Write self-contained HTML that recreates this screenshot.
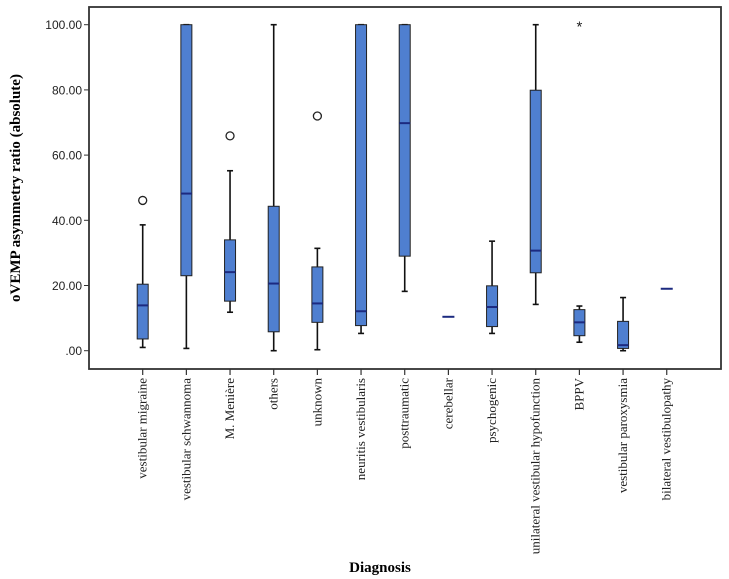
<!DOCTYPE html>
<html><head><meta charset="utf-8"><style>
html,body{margin:0;padding:0;background:#fff;width:729px;height:579px;overflow:hidden}
</style></head><body>
<svg id="chart" width="729" height="579" xmlns="http://www.w3.org/2000/svg">
<rect x="0" y="0" width="729" height="579" fill="#fff"/>
<rect x="89" y="7" width="632" height="362" fill="#fff" stroke="#333" stroke-width="1.8"/>
<text x="20" y="188" transform="rotate(-90 20 188)" text-anchor="middle" font-family="Liberation Serif, serif" font-weight="bold" font-size="15">oVEMP asymmetry ratio (absolute)</text>
<text x="380" y="572" text-anchor="middle" font-family="Liberation Serif, serif" font-weight="bold" font-size="15">Diagnosis</text>
<g id="g"></g>
</svg>
<script>
const categories=["vestibular migraine","vestibular schwannoma","M. Menière","others","unknown","neuritis vestibularis","posttraumatic","cerebellar","psychogenic","unilateral vestibular hypofunction","BPPV","vestibular paroxysmia","bilateral vestibulopathy"];
const whiskerLow=[1.0,0.7,11.8,0,0.3,5.3,18.2,10.4,5.3,14.2,2.6,0,19.0];
const q1=[3.6,23.0,15.2,5.8,8.7,7.7,29.0,10.4,7.4,23.9,4.6,0.7,19.0];
const medians=[13.9,48.2,24.1,20.6,14.5,12.1,69.8,10.4,13.4,30.7,8.7,1.7,19.0];
const q3=[20.4,100,34.0,44.3,25.7,100,100,10.4,19.9,79.9,12.6,9.0,19.0];
const whiskerHigh=[38.6,100,55.2,100,31.4,100,100,10.4,33.6,100,13.7,16.3,19.0];
const outlierCat=[0,2,4];
const outlierVal=[46.1,65.9,72.0];
const extremeCat=[10];
const extremeVal=[100];
const yTicks=[0,20,40,60,80,100];
const yTickLabels=[".00","20.00","40.00","60.00","80.00","100.00"];

const NS="http://www.w3.org/2000/svg";
const g=document.getElementById('g');
const y=v=>350.7-v*3.26;
const x=i=>142.7+i*43.67;
function mk(t,a){const e=document.createElementNS(NS,t);for(const k in a)e.setAttribute(k,a[k]);g.appendChild(e);return e;}
yTicks.forEach((v,i)=>{
 const t=mk('line',{x1:84,x2:89,y1:y(v),y2:y(v),stroke:'#333','stroke-width':1});
 
 
 const l=mk('text',{x:82,y:y(v)+4.5,'text-anchor':'end','font-family':'Liberation Sans, sans-serif','font-size':12,fill:'#222'});
 l.textContent=yTickLabels[i];
 
 
});
categories.forEach((c,i)=>{
 const cx=x(i),w=11;
 const t=mk('line',{x1:cx,x2:cx,y1:369,y2:375,stroke:'#333','stroke-width':1.2});
 
 
 const l=mk('text',{x:cx+4,y:378,transform:`rotate(-90 ${cx+4} 378)`,'text-anchor':'end','font-family':'Liberation Serif, serif','font-size':13,fill:'#222'});
 l.textContent=c;
 
 
 if(q3[i]-q1[i]<0.5){
  const m=mk('line',{x1:cx-6,x2:cx+6,y1:y(medians[i]),y2:y(medians[i]),stroke:'#1c2a80','stroke-width':2});
  
  
  return;
 }
 const wl=mk('line',{x1:cx,x2:cx,y1:y(whiskerLow[i]),y2:y(whiskerHigh[i]),stroke:'#111','stroke-width':1.6});
 
 
 [whiskerLow[i],whiskerHigh[i]].forEach(v=>{
  const cap=mk('line',{x1:cx-3,x2:cx+3,y1:y(v),y2:y(v),stroke:'#111','stroke-width':1.6});
  
  
 });
 const b=mk('rect',{x:cx-w/2,y:y(q3[i]),width:w,height:y(q1[i])-y(q3[i]),fill:'#4f7fd0',stroke:'#222','stroke-width':1});
 
 
 const m=mk('line',{x1:cx-w/2,x2:cx+w/2,y1:y(medians[i]),y2:y(medians[i]),stroke:'#1c2a80','stroke-width':2});
 
 
});
outlierCat.forEach((c,i)=>{
 const o=mk('circle',{cx:x(c),cy:y(outlierVal[i]),r:4,fill:'#fff',stroke:'#222','stroke-width':1.3});
 
 
});
extremeCat.forEach((c,i)=>{
 const s=mk('text',{x:x(c),y:y(extremeVal[i])+7,'text-anchor':'middle','font-family':'Liberation Sans, sans-serif','font-size':15,fill:'#222'});
 s.textContent='*';
 
 
});
</script>
</body></html>
